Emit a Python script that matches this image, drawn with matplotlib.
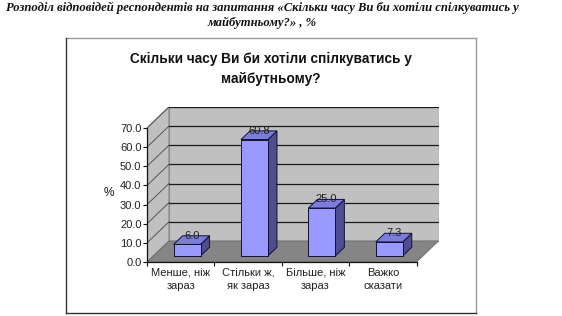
import matplotlib
matplotlib.use("Agg")
import matplotlib.pyplot as plt
from matplotlib.patches import Polygon
from matplotlib.lines import Line2D

# Survey answers and their shares, %
categories = ["Менше, ніж\nзараз", "Стільки ж,\nяк зараз", "Більше, ніж\nзараз", "Важко\nсказати"]
values = [6.0, 60.8, 25.0, 7.3]
y_ticks = [0, 10, 20, 30, 40, 50, 60, 70]

heading = ("Розподіл відповідей респондентів на запитання «Скільки часу Ви би хотіли спілкуватись у\n"
           "майбутньому?» , %")
chart_title = "Скільки часу Ви би хотіли спілкуватись у\nмайбутньому?"

W, H, DPI = 562, 316, 100
fig = plt.figure(figsize=(W / DPI, H / DPI), dpi=DPI)
fig.patch.set_facecolor("white")

# oblique depth of the 3-D box, in data units
ymax = 70
ddx = 0.326           # depth shift along the category axis
ddy = 11.0            # depth shift along the value axis
n = len(categories)

ax = fig.add_axes([147 / W, 54 / H, (n + ddx) * 67.4 / W, (ymax + ddy) * 1.914 / H])
ax.set_xlim(0, n + ddx)
ax.set_ylim(0, ymax + ddy)
ax.set_facecolor("none")

wall = "#c0c0c0"
floor = "#858585"
grid_c = "#1a1a1a"

# back wall, side wall and floor
ax.add_patch(Polygon([(ddx, ddy), (n + ddx, ddy), (n + ddx, ymax + ddy), (ddx, ymax + ddy)],
                     closed=True, facecolor=wall, edgecolor="#8a8a8a", lw=0.8, zorder=1))
ax.add_patch(Polygon([(0, 0), (ddx, ddy), (ddx, ymax + ddy), (0, ymax)],
                     closed=True, facecolor=wall, edgecolor="#8a8a8a", lw=0.8, zorder=1))
ax.add_patch(Polygon([(0, 0), (n, 0), (n + ddx, ddy), (ddx, ddy)],
                     closed=True, facecolor=floor, edgecolor="#6a6a6a", lw=0.6, zorder=1))

# gridlines on the walls
for v in y_ticks[1:]:
    ax.plot([ddx, n + ddx], [v + ddy, v + ddy], color=grid_c, lw=0.9, zorder=2)
    ax.plot([0, ddx], [v, v + ddy], color="#555555", lw=0.7, zorder=2)

# 3-D columns
front_c, top_c, side_c = "#9999ff", "#7b7be0", "#4d4d8f"
f0, f1 = 0.29, 0.70      # depth range taken by the columns
half_w = 0.2
for i, v in enumerate(values):
    cx = i + 0.5
    x0 = cx - half_w + f0 * ddx
    x1 = cx + half_w + f0 * ddx
    y0 = f0 * ddy
    y1 = v + f0 * ddy
    dx = (f1 - f0) * ddx
    dy = (f1 - f0) * ddy
    ax.add_patch(Polygon([(x1, y0), (x1 + dx, y0 + dy), (x1 + dx, y1 + dy), (x1, y1)],
                         closed=True, facecolor=side_c, edgecolor="#111133", lw=0.7, zorder=4))
    ax.add_patch(Polygon([(x0, y1), (x1, y1), (x1 + dx, y1 + dy), (x0 + dx, y1 + dy)],
                         closed=True, facecolor=top_c, edgecolor="#111133", lw=0.7, zorder=4))
    ax.add_patch(Polygon([(x0, y0), (x1, y0), (x1, y1), (x0, y1)],
                         closed=True, facecolor=front_c, edgecolor="#111133", lw=0.7, zorder=5))
    ax.text((x0 + x1) / 2 + dx / 2, y1 + dy, f"{v:.1f}", ha="center", va="center",
            fontsize=8, color="#222222", family="Liberation Sans", zorder=6)

# axes: value axis on the left, category axis along the floor front
for s in ("top", "right"):
    ax.spines[s].set_visible(False)
ax.spines["left"].set_bounds(0, ymax)
ax.spines["bottom"].set_bounds(0, n)
for s in ("left", "bottom"):
    ax.spines[s].set_color("#111111")
    ax.spines[s].set_linewidth(0.9)
    ax.spines[s].set_zorder(7)

ax.set_yticks(y_ticks)
ax.set_yticklabels([f"{t:.1f}" for t in y_ticks])
ax.tick_params(axis="y", direction="out", length=3, width=0.8, pad=1,
               labelsize=8, labelcolor="#222222", color="#111111")
ax.set_xticks(range(n + 1))
ax.set_xticklabels([])
ax.set_xticks([i + 0.5 for i in range(n)], minor=True)
ax.set_xticklabels(categories, minor=True, fontsize=8, color="#222222",
                   family="Liberation Sans", linespacing=1.45)
ax.tick_params(axis="x", which="major", direction="out", length=3, width=0.8, color="#111111")
ax.tick_params(axis="x", which="minor", length=0, pad=4)
for lab in ax.get_yticklabels():
    lab.set_family("Liberation Sans")

fig.text(109 / W, 1 - 193 / H, "%", ha="center", va="center", fontsize=8.5,
         family="Liberation Sans", color="#111111")

# chart title
fig.text(271 / W, 1 - 69 / H, chart_title, ha="center", va="center", fontsize=9.8,
         fontweight="bold", family="Liberation Sans", color="#111111", linespacing=1.6)

# heading above the chart frame
fig.text(262 / W, 1 - 15 / H, heading, ha="center", va="center", fontsize=9.1,
         fontweight="bold", fontstyle="italic", family="Liberation Serif", color="#111111",
         linespacing=1.3)

# chart frame
fig.add_artist(Line2D([66 / W, 476 / W], [1 - 38 / H, 1 - 38 / H], transform=fig.transFigure,
                      color="#9a9a9a", lw=1.0))
fig.add_artist(Line2D([476 / W, 476 / W], [1 - 38 / H, 1 - 312.5 / H], transform=fig.transFigure,
                      color="#9a9a9a", lw=1.0))
fig.add_artist(Line2D([66 / W, 66 / W], [1 - 38 / H, 1 - 312.5 / H], transform=fig.transFigure,
                      color="#333333", lw=1.0))
fig.add_artist(Line2D([66 / W, 476 / W], [1 - 312.5 / H, 1 - 312.5 / H], transform=fig.transFigure,
                      color="#333333", lw=1.0))

fig.savefig("out.png", dpi=DPI)
